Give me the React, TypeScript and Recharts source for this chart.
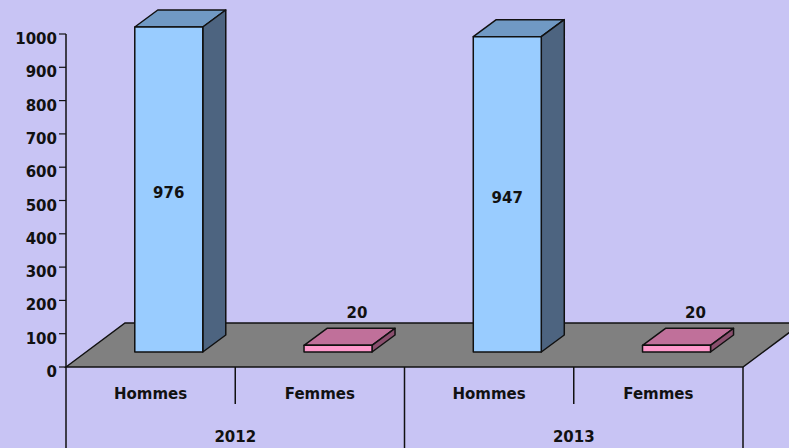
import React from 'react';
import { BarChart, Bar, XAxis, YAxis, ReferenceArea, LabelList } from 'recharts';

// data
const categories = ['Hommes', 'Femmes', 'Hommes', 'Femmes'];
const years = ['2012', '2012', '2013', '2013'];
const values = [976, 20, 947, 20];
const yTicks = [0, 100, 200, 300, 400, 500, 600, 700, 800, 900, 1000];

const data = categories.map((sexe, i) => ({ sexe, year: years[i], value: values[i] }));

const W = 789;
const H = 448;
const MARGIN = { top: 34, right: 46, left: 0, bottom: 0 };
const Y_W = 66;
const BAND = (W - MARGIN.right - MARGIN.left - Y_W) / categories.length;

// fake 3d offsets
const FRONT = { dx: 18, dy: -15 };
const DEPTH = { dx: 23, dy: -17 };
const FLOOR = { dx: 59, dy: -44 };

const palette: Record<string, { front: string; top: string; side: string }> = {
  Hommes: { front: '#99CCFF', top: '#7099C4', side: '#4D6480' },
  Femmes: { front: '#FF99CC', top: '#C0709A', side: '#8A4F6E' },
};

const INK = '#111';
const FONT = 15;

const Box = (props: any) => {
  const { x, y, width, height, payload } = props;
  const c = palette[payload.sexe];
  const fx = x + FRONT.dx;
  const fy = y + FRONT.dy;
  const rx = fx + width;
  const by = fy + height;
  const d = DEPTH;
  return (
    <g stroke={INK} strokeWidth={1.5} strokeLinejoin="round">
      <polygon points={`${fx},${fy} ${fx + d.dx},${fy + d.dy} ${rx + d.dx},${fy + d.dy} ${rx},${fy}`} fill={c.top} />
      <polygon points={`${rx},${fy} ${rx + d.dx},${fy + d.dy} ${rx + d.dx},${by + d.dy} ${rx},${by}`} fill={c.side} />
      <rect x={fx} y={fy} width={width} height={height} fill={c.front} />
    </g>
  );
};

const Floor = (props: any) => {
  const { x, y, width, height } = props;
  const b = y + height;
  const r = x + width;
  return (
    <polygon
      points={`${x},${b} ${x + FLOOR.dx},${b + FLOOR.dy} ${r + FLOOR.dx},${b + FLOOR.dy} ${r},${b}`}
      fill="#808080"
      stroke={INK}
      strokeWidth={1.5}
    />
  );
};

const ValueLabel = (props: any) => {
  const { x, y, width, height, value, index } = props;
  const inside = categories[index] === 'Hommes';
  const cx = inside ? x + width / 2 + FRONT.dx : x + width / 2 + FRONT.dx + 19;
  const cy = inside ? y + height / 2 + FRONT.dy + 9 : y + FRONT.dy + DEPTH.dy - 10;
  return (
    <text x={cx} y={cy} textAnchor="middle" fontSize={FONT} fontWeight={700} fill={INK}>
      {value}
    </text>
  );
};

const ValueTick = (props: any) => {
  const { x, y, payload } = props;
  return (
    <text x={x} y={y + 10} textAnchor="end" fontSize={FONT} fontWeight={700} fill={INK}>
      {payload.value}
    </text>
  );
};

const SexeTick = (props: any) => {
  const { x, y, payload } = props;
  const index = props.index ?? payload.index;
  const left = x - BAND / 2;
  const groupStart = index % 2 === 0;
  return (
    <g>
      <line x1={left} x2={left} y1={y} y2={groupStart ? H : y + 37} stroke={INK} strokeWidth={1.5} />
      {index === categories.length - 1 && (
        <line x1={x + BAND / 2} x2={x + BAND / 2} y1={y} y2={H} stroke={INK} strokeWidth={1.5} />
      )}
      <text x={x} y={y + 32} textAnchor="middle" fontSize={FONT} fontWeight={700} fill={INK}>
        {payload.value}
      </text>
    </g>
  );
};

const YearTick = (props: any) => {
  const { x, y, payload } = props;
  const index = props.index ?? payload.index;
  if (index % 2 !== 0) return <g />;
  return (
    <text x={x + BAND / 2} y={y + 38} textAnchor="middle" fontSize={FONT} fontWeight={700} fill={INK}>
      {payload.value}
    </text>
  );
};

export default function App() {
  return (
    <div style={{ position: 'fixed', left: 0, top: 0, width: W, height: H, background: '#C8C4F4', fontFamily: '"DejaVu Sans", sans-serif' }}>
      <BarChart width={W} height={H} data={data} margin={MARGIN} barCategoryGap="30%">
        <XAxis
          dataKey="sexe"
          interval={0}
          axisLine={false}
          tickLine={false}
          tickSize={0}
          tickMargin={0}
          height={37}
          tick={<SexeTick />}
        />
        <XAxis
          xAxisId="year"
          dataKey="year"
          interval={0}
          axisLine={false}
          tickLine={false}
          tickSize={0}
          tickMargin={0}
          height={44}
          tick={<YearTick />}
        />
        <YAxis
          domain={[0, 1000]}
          ticks={yTicks}
          interval={0}
          width={Y_W}
          tickSize={7}
          tickMargin={2}
          axisLine={{ stroke: INK, strokeWidth: 1.5 }}
          tickLine={{ stroke: INK, strokeWidth: 1.2 }}
          tick={<ValueTick />}
        />
        <ReferenceArea y1={0} y2={1000} shape={<Floor />} />
        <Bar dataKey="value" shape={<Box />} isAnimationActive={false}>
          <LabelList dataKey="value" content={<ValueLabel />} />
        </Bar>
      </BarChart>
    </div>
  );
}
